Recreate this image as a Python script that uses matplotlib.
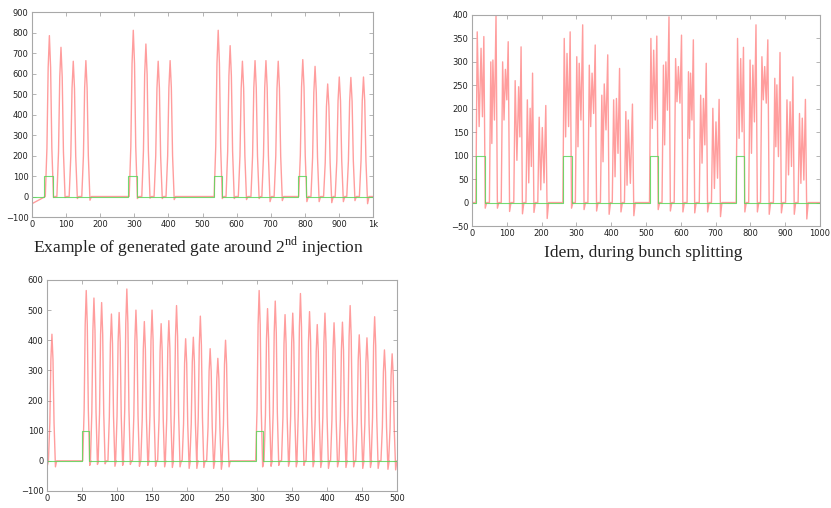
import matplotlib
matplotlib.use("Agg")
import matplotlib.pyplot as plt

plt.rcParams['mathtext.fontset'] = 'custom'
plt.rcParams['mathtext.rm'] = 'Liberation Serif'

# --- pulses around the 2nd injection (top left)
inj_peak_x = [51, 85, 121, 158, 297, 334, 370, 405, 546, 581, 617, 654, 686, 722,
              794, 830, 867, 901, 935, 972]
inj_peak_y = [785, 728, 660, 663, 811, 744, 660, 663, 811, 736, 660, 663, 663, 660,
              668, 635, 549, 583, 581, 583]
inj_under = [-5, -5, -10, -18, -10, -8, -10, -15, -10, -10, -15, -10, -25, -20,
             -25, -25, -30, -25, -20, -35]
inj_gate_on = [36, 282, 534, 779]
inj_gate_off = [62, 307, 558, 803]

# --- same, during bunch splitting (top right): 3 sub-peaks per bunch
split_x = [[15, 26, 34], [54, 60, 69], [88, 96, 104], [124, 134, 141], [159, 167, 174], [193, 202, 212],
           [265, 273, 282], [301, 308, 318], [337, 345, 354], [373, 380, 390], [407, 415, 424], [442, 449, 461],
           [514, 522, 531], [550, 557, 566], [585, 593, 602], [622, 628, 636], [657, 665, 673], [692, 701, 710],
           [763, 772, 780], [799, 807, 816], [833, 841, 850], [870, 876, 885], [905, 914, 922], [941, 949, 958]]
split_y = [[364, 329, 354], [300, 304, 400], [300, 284, 343], [260, 247, 332], [219, 201, 276], [182, 160, 207],
           [350, 318, 364], [311, 297, 379], [293, 276, 336], [229, 253, 315], [219, 222, 286], [194, 176, 210],
           [350, 325, 355], [293, 300, 396], [307, 290, 357], [279, 276, 347], [229, 222, 297], [201, 172, 220],
           [350, 307, 331], [304, 293, 379], [311, 290, 347], [265, 251, 320], [219, 215, 268], [190, 180, 220]]
split_dip = [[162, 183], [126, 176], [176, 219], [90, 140], [42, 77], [27, 42],
             [140, 162], [119, 176], [162, 190], [87, 155], [55, 105], [37, 41],
             [158, 176], [123, 197], [215, 212], [137, 176], [84, 123], [30, 52],
             [137, 151], [105, 172], [219, 212], [119, 98], [59, 77], [41, 48]]
split_under = [-12, -12, -19, -24, -21, -34, -12, -15, -18, -25, -20, -28,
               -15, -18, -20, -22, -20, -30, -20, -20, -25, -22, -25, -35]
split_gate_on = [12, 262, 512, 759]
split_gate_off = [36, 286, 534, 782]

# --- zoom on 0..500 (bottom left)
zoom_peak_x = [7, 56, 67, 78, 92, 103, 114, 127, 139, 150, 163, 174, 185, 198, 209, 219, 233, 244, 255,
               303, 315, 326, 340, 351, 362, 375, 386, 397, 410, 422, 433, 446, 457, 468, 482, 493]
zoom_peak_y = [420, 565, 540, 525, 487, 492, 570, 500, 462, 500, 455, 465, 515, 405, 410, 480, 372, 340, 400,
               565, 505, 530, 485, 490, 555, 495, 452, 490, 458, 460, 515, 418, 408, 478, 368, 355]
zoom_under = [-20, -15, -12, -10, -18, -15, -12, -18, -15, -18, -20, -22, -20, -25, -25, -22, -25, -28, -20,
              -20, -18, -15, -18, -20, -15, -20, -22, -25, -20, -22, -20, -25, -22, -25, -28, -30]
zoom_gate_on = [50, 299]
zoom_gate_off = [60, 309]

RED = '#ff4d4d'
GREEN = '#5cd65c'
FRAME = '#a8a8a8'


def pulse_trace(px, py, under, half, x0, x1, y0=0):
    offs = [-1, -0.6, -0.3, 0, 0.3, 0.6, 1.0, 1.35]
    xs, ys = [x0], [y0]
    for p, h, u in zip(px, py, under):
        fr = [0, 0.3, 0.8, 1, 0.8, 0.3]
        xs += [p + o * half for o in offs]
        ys += [f * h for f in fr] + [u, 0]
    xs.append(x1)
    ys.append(0)
    return xs, ys


def bunch_trace(bx, by, bd, under, x0, x1):
    xs, ys = [x0], [0]
    for (a, b, c), (ha, hb, hc), (da, db), u in zip(bx, by, bd, under):
        xs += [a - 4, a, (a + b) / 2, b, (b + c) / 2, c, c + 4, c + 8]
        ys += [0, ha, da, hb, db, hc, u, 0]
    xs.append(x1)
    ys.append(0)
    return xs, ys


def gate_trace(on, off, x0, x1):
    xs, ys = [x0], [0]
    for a, b in zip(on, off):
        xs += [a, a, b, b]
        ys += [0, 100, 100, 0]
    xs.append(x1)
    ys.append(0)
    return xs, ys


def style(ax, xlim, ylim, xticks, yticks):
    ax.set_xlim(*xlim)
    ax.set_ylim(*ylim)
    ax.set_xticks(xticks)
    ax.set_yticks(yticks)
    for s in ax.spines.values():
        s.set_color(FRAME)
        s.set_linewidth(0.8)
    ax.tick_params(direction='in', length=3, width=0.6, color=FRAME,
                   top=True, right=True, labelsize=6, labelcolor='#222222', pad=2.5)


fig = plt.figure(figsize=(8.31, 5.08), dpi=100)

ax1 = fig.add_axes([0.0385, 0.5728, 0.4104, 0.4035])
x, y = pulse_trace(inj_peak_x, inj_peak_y, inj_under, 12, 0, 1000, y0=-35)
ax1.plot(x, y, color=RED, lw=1.0, alpha=0.55)
x, y = gate_trace(inj_gate_on, inj_gate_off, 0, 1000)
ax1.plot(x, y, color=GREEN, lw=0.8, alpha=0.85)
style(ax1, (0, 1000), (-100, 900), range(0, 1001, 100), range(-100, 901, 100))
ax1.set_xticklabels([str(v) for v in range(0, 1000, 100)] + ['1k'])

ax2 = fig.add_axes([0.568, 0.5551, 0.4188, 0.4154])
x, y = bunch_trace(split_x, split_y, split_dip, split_under, 0, 1000)
ax2.plot(x, y, color=RED, lw=1.0, alpha=0.55)
x, y = gate_trace(split_gate_on, split_gate_off, 0, 1000)
ax2.plot(x, y, color=GREEN, lw=0.8, alpha=0.85)
style(ax2, (0, 1000), (-50, 400), range(0, 1001, 100), range(-50, 401, 50))

ax3 = fig.add_axes([0.0566, 0.0335, 0.4212, 0.4154])
x, y = pulse_trace(zoom_peak_x, zoom_peak_y, zoom_under, 5, 0, 500, y0=-20)
ax3.plot(x, y, color=RED, lw=1.0, alpha=0.55)
x, y = gate_trace(zoom_gate_on, zoom_gate_off, 0, 500)
ax3.plot(x, y, color=GREEN, lw=0.8, alpha=0.85)
style(ax3, (0, 500), (-100, 600), range(0, 501, 50), range(-100, 601, 100))

fig.text(0.2385, 0.514, r'Example of generated gate around 2$^{\rm nd}$ injection',
         family='Liberation Serif', fontsize=12.5, ha='center', va='center', color='#222222')
fig.text(0.774, 0.502, 'Idem, during bunch splitting',
         family='Liberation Serif', fontsize=12.5, ha='center', va='center', color='#222222')

fig.savefig('out.png', dpi=100)
